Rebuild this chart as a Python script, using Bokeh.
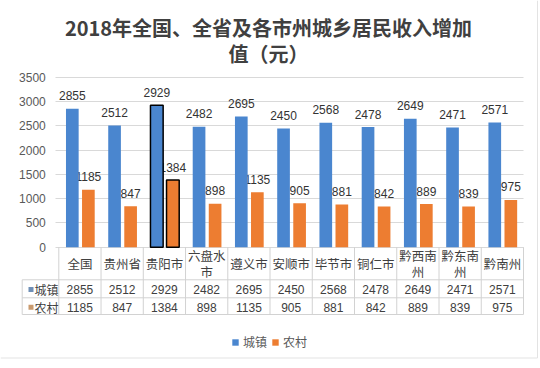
import numpy as np
from bokeh.plotting import figure
from bokeh.models import (Range1d, LinearAxis, FixedTicker, Grid, ColumnDataSource,
                          Label, Legend, LegendItem)
from bokeh.core.properties import value
from bokeh.embed import file_html
from bokeh.resources import INLINE

# ---------------- data ----------------
categories = ["全国", "贵州省", "贵阳市", "六盘水市", "遵义市", "安顺市",
              "毕节市", "铜仁市", "黔西南州", "黔东南州", "黔南州"]
urban = [2855, 2512, 2929, 2482, 2695, 2450, 2568, 2478, 2649, 2471, 2571]
rural = [1185, 847, 1384, 898, 1135, 905, 881, 842, 889, 839, 975]
series_names = ["城镇", "农村"]
y_ticks = [0, 500, 1000, 1500, 2000, 2500, 3000, 3500]
title_lines = ["2018年全国、全省及各市州城乡居民收入增加", "值（元）"]
highlight = "贵阳市"

# ---------------- style / layout ----------------
BLUE, ORANGE = "#4A86CF", "#ED7D31"
KEY_BLUE, KEY_ORANGE = "#6F8FB6", "#C99A6E"
TXT = "#404040"
GRID = "#d9d9d9"
TBL = "#d2d2d2"
CJK = "Noto Sans CJK SC"
NUM = "Liberation Sans"

W, H = 538, 366                           # the frame covers the whole figure
ZERO = 246.7                              # y pixel (from top) of value 0
PPU = 169.7 / 3500                        # pixels per value unit
CAT0, CAT1 = 58.3, 523.0                  # x pixels where categories begin / end
KEY0 = 21.7                               # x pixel of table key column left edge
n = len(categories)
CW = (CAT1 - CAT0) / n                    # category width in px


def ypx(px_below_zero):
    return -px_below_zero / PPU


def yabs(py):
    return (ZERO - py) / PPU


def xpx(px):
    return (px - CAT0) / CW


x_range = Range1d(xpx(0), xpx(W))
y_range = Range1d(yabs(H), yabs(0))

p = figure(frame_width=W, frame_height=H, x_range=x_range, y_range=y_range,
           x_axis_type=None, y_axis_type=None, title=None,
           toolbar_location=None, output_backend="svg", min_border=0)
p.outline_line_color = None
p.background_fill_color = "white"
p.border_fill_color = "white"

# grid lines
try:
    grid = Grid(dimension=1, ticker=FixedTicker(ticks=y_ticks),
                cross_bounds=(xpx(55), n), grid_line_color=GRID)
    p.add_layout(grid, "center")
except Exception:
    p.segment(x0=[xpx(55)] * len(y_ticks), x1=[n] * len(y_ticks), y0=y_ticks,
              y1=y_ticks, line_color=GRID, line_width=1)

# y axis
yax = LinearAxis(ticker=FixedTicker(ticks=y_ticks), fixed_location=0,
                 axis_line_color=None, major_tick_line_color=None,
                 minor_tick_line_color=None, major_label_standoff=7,
                 major_label_text_font_size="12px", major_label_text_color="#595959",
                 major_label_text_font=NUM)
p.add_layout(yax, "left")

idx = np.arange(n)
OFF_U, OFF_R, BW = 0.32, 0.70, 0.30

# value labels (drawn first so bars overlap them like the original)
p.text(x=idx + OFF_U, y=urban, text=[str(v) for v in urban], text_align="center",
       text_baseline="middle", y_offset=-13, text_font=value(NUM),
       text_font_size="12px", text_color="#333333")
p.text(x=idx + OFF_R, y=rural, text=[str(v) for v in rural], text_align="center",
       text_baseline="middle", y_offset=-13, text_font=value(NUM),
       text_font_size="12px", text_color="#333333")


def outline(cats):
    return ["black" if c == highlight else None for c in cats]


src_u = ColumnDataSource(dict(x=idx + OFF_U, top=urban, lc=outline(categories)))
src_r = ColumnDataSource(dict(x=idx + OFF_R, top=rural, lc=outline(categories)))
r_u = p.vbar(x="x", top="top", bottom=0, width=BW, source=src_u,
             fill_color=BLUE, line_color="lc", line_width=1.5)
r_r = p.vbar(x="x", top="top", bottom=0, width=BW, source=src_r,
             fill_color=ORANGE, line_color="lc", line_width=1.5)

# ---------------- data table ----------------
ROW1, ROW2, ROW3 = 32.6, 50.6, 67.3       # row boundaries, px below zero
x_key = xpx(KEY0)
rows = [ypx(ROW1), ypx(ROW2), ypx(ROW3)]
p.segment(x0=[x_key] * 3, x1=[n] * 3, y0=rows, y1=rows, line_color=TBL, line_width=1)
p.segment(x0=list(range(n + 1)), x1=list(range(n + 1)), y0=[0] * (n + 1),
          y1=[ypx(ROW3)] * (n + 1), line_color=TBL, line_width=1)
p.segment(x0=[x_key], x1=[x_key], y0=[ypx(ROW1)], y1=[ypx(ROW3)],
          line_color=TBL, line_width=1)

# category labels (wrapped after three characters, like the original cells)
line1 = [c if len(c) <= 3 else c[:3] for c in categories]
line2 = ["" if len(c) <= 3 else c[3:] for c in categories]
y_l1 = [ypx(16.6) if len(c) <= 3 else ypx(8.6) for c in categories]
p.text(x=idx + 0.5, y=y_l1, text=line1, text_align="center", text_baseline="middle",
       text_font=value(CJK), text_font_size="12.5px", text_color=TXT)
p.text(x=idx + 0.5, y=[ypx(24.2)] * n, text=line2, text_align="center",
       text_baseline="middle", text_font=value(CJK), text_font_size="12.5px",
       text_color=TXT)
p.text(x=idx + 0.5, y=[ypx(42.3)] * n, text=[str(v) for v in urban],
       text_align="center", text_baseline="middle", text_font=value(NUM),
       text_font_size="12px", text_color=TXT)
p.text(x=idx + 0.5, y=[ypx(60.0)] * n, text=[str(v) for v in rural],
       text_align="center", text_baseline="middle", text_font=value(NUM),
       text_font_size="12px", text_color=TXT)

# key column
p.scatter(x=[xpx(30.5)] * 2, y=[ypx(42.3), ypx(60.0)], marker="square", size=5,
          fill_color=[KEY_BLUE, KEY_ORANGE], line_color=None)
p.text(x=[xpx(34)] * 2, y=[ypx(42.3), ypx(60.0)], text=series_names,
       text_align="left", text_baseline="middle", text_font=value(CJK),
       text_font_size="12px", text_color=TXT)

# chart-area border (bottom and right), as in the original picture
p.segment(x0=[xpx(0), xpx(537)], x1=[xpx(537), xpx(537)],
          y0=[yabs(357.5), yabs(0)], y1=[yabs(357.5), yabs(357.5)],
          line_color="#e3e3e3", line_width=1)

# ---------------- legend ----------------
legend = Legend(items=[LegendItem(label=series_names[0], renderers=[r_u], index=0),
                       LegendItem(label=series_names[1], renderers=[r_r], index=0)],
                orientation="horizontal", location=(231, H - 341 - 9), padding=0,
                spacing=4, glyph_width=8, glyph_height=8, label_standoff=4,
                border_line_color=None, background_fill_alpha=0,
                label_text_font_size="12px", label_text_color="#595959",
                label_text_font=CJK)
p.add_layout(legend)

# ---------------- title ----------------
for i, line in enumerate(title_lines):
    p.add_layout(Label(x=268, y=H - 27 - 26 * i, x_units="screen", y_units="screen",
                       text=line, text_align="center", text_baseline="middle",
                       text_font_size="20px", text_font_style="bold",
                       text_color="#404040", text_font=CJK))

open("out.html", "w").write(file_html(p, INLINE))
